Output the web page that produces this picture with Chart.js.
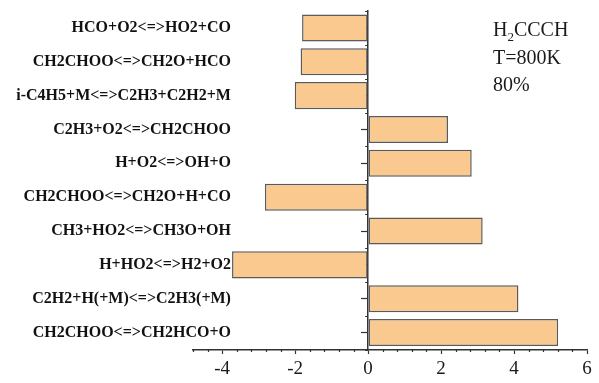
<!DOCTYPE html>
<html>
<head>
<meta charset="utf-8">
<script src="https://cdn.jsdelivr.net/npm/chart.js@4"></script>
<style>
  body { margin: 0; background: #fff; }
  #sens { display: block; }
</style>
</head>
<body>
<canvas id="sens" width="599" height="383"></canvas>
<script>
// reactions, top to bottom
const reactions = [
  'HCO+O2<=>HO2+CO',
  'CH2CHOO<=>CH2O+HCO',
  'i-C4H5+M<=>C2H3+C2H2+M',
  'C2H3+O2<=>CH2CHOO',
  'H+O2<=>OH+O',
  'CH2CHOO<=>CH2O+H+CO',
  'CH3+HO2<=>CH3O+OH',
  'H+HO2<=>H2+O2',
  'C2H2+H(+M)<=>C2H3(+M)',
  'CH2CHOO<=>CH2HCO+O'
];
// sensitivity coefficients
const sensitivity = [-1.81, -1.85, -2.01, 2.19, 2.84, -2.83, 3.14, -3.73, 4.12, 5.21];
const xTicks = [-4, -2, 0, 2, 4, 6];
const xMin = -4.8, xMax = 6, minorStep = 0.4;

const axisColor = '#333';
const serif = '"Liberation Serif", "Times New Roman", serif';

// small minor ticks on both axes + the condition note
const extras = {
  id: 'extras',
  afterDraw(chart) {
    const ctx = chart.ctx;
    const xs = chart.scales.x, ys = chart.scales.y;
    const area = chart.chartArea;
    const zeroX = xs.getPixelForValue(0);
    ctx.save();
    ctx.strokeStyle = axisColor;
    ctx.lineWidth = 1.2;
    ctx.beginPath();
    for (let v = xMin; v <= xMax + 1e-6; v += minorStep) {
      const r = Math.round(v * 10) / 10;
      if (xTicks.includes(r)) continue;
      const px = Math.round(xs.getPixelForValue(r)) + 0.5;
      ctx.moveTo(px, area.bottom);
      ctx.lineTo(px, area.bottom + 2.5);
    }
    const n = reactions.length;
    for (let i = 0; i <= n; i++) {
      let py;
      if (i === 0) py = area.top;
      else if (i === n) py = area.bottom;
      else py = (ys.getPixelForTick(i - 1) + ys.getPixelForTick(i)) / 2;
      py = Math.round(py) + 0.5;
      ctx.moveTo(zeroX, py);
      ctx.lineTo(zeroX - 3, py);
    }
    ctx.stroke();

    ctx.fillStyle = '#1a1a1a';
    ctx.textBaseline = 'alphabetic';
    ctx.textAlign = 'left';
    const tx = 493;
    ctx.font = '20px ' + serif;
    ctx.fillText('H', tx, 36);
    let w = ctx.measureText('H').width;
    ctx.font = '13px ' + serif;
    ctx.fillText('2', tx + w, 41);
    w += ctx.measureText('2').width;
    ctx.font = '20px ' + serif;
    ctx.fillText('CCCH', tx + w, 36);
    ctx.fillText('T=800K', tx, 64);
    ctx.fillText('80%', tx, 91);
    ctx.restore();
  }
};

new Chart(document.getElementById('sens'), {
  type: 'bar',
  data: {
    labels: reactions,
    datasets: [{
      data: sensitivity,
      backgroundColor: '#fac990',
      borderColor: '#5a5a5a',
      borderWidth: 1.5,
      borderSkipped: false,
      barPercentage: 0.8,
      categoryPercentage: 1
    }]
  },
  options: {
    indexAxis: 'y',
    responsive: false,
    animation: false,
    devicePixelRatio: 1,
    layout: { padding: { left: 193, right: 12, top: 11, bottom: 0 } },
    plugins: {
      legend: { display: false },
      tooltip: { enabled: false }
    },
    scales: {
      x: {
        min: xMin,
        max: xMax,
        afterBuildTicks: s => { s.ticks = xTicks.map(v => ({ value: v })); },
        afterFit: s => { s.height = 33.5; },
        ticks: {
          color: '#1a1a1a',
          padding: 4,
          font: { family: serif, size: 19 }
        },
        grid: { drawOnChartArea: false, tickLength: 4.5, tickColor: axisColor, tickWidth: 1.2 },
        border: { color: axisColor, width: 1.5 }
      },
      // reaction names, right-aligned just left of the longest negative bar
      y: {
        position: { x: -3.76 },
        offset: true,
        ticks: {
          color: '#111',
          padding: 0,
          font: { family: serif, size: 16, weight: 'bold' }
        },
        grid: { display: false },
        border: { display: false }
      },
      // zero line with major ticks at each reaction
      y0: {
        type: 'category',
        position: { x: 0 },
        offset: true,
        ticks: { display: false },
        grid: { drawOnChartArea: false, offset: false, tickLength: 6, tickColor: axisColor, tickWidth: 1.2 },
        border: { color: axisColor, width: 1.5 }
      }
    }
  },
  plugins: [extras]
});
</script>
</body>
</html>
